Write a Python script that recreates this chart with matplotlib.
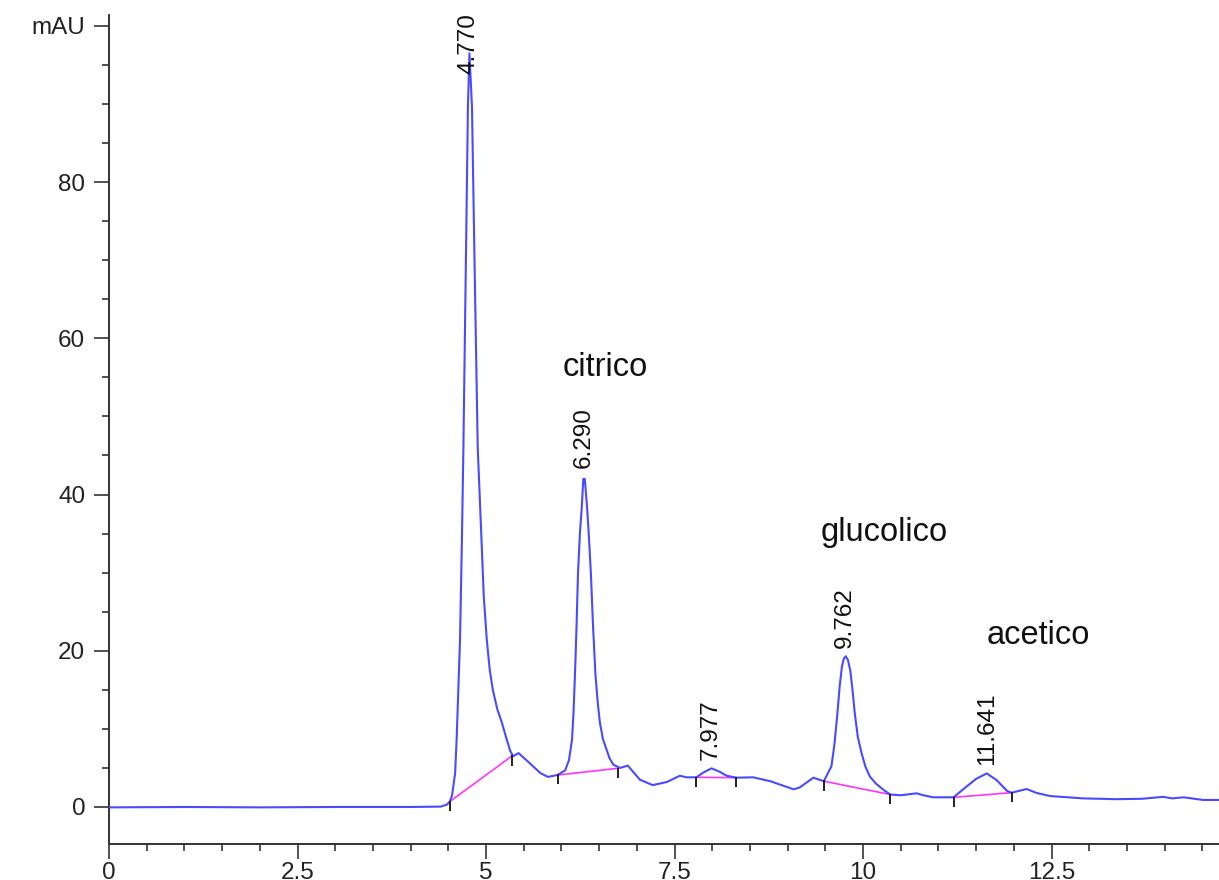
# chromatogram with integrated peaks (organic acids)

import matplotlib.pyplot as plt

# trace (min, mAU)
time_min = [0.0, 1.0, 2.0, 3.0, 3.5, 4.0, 4.4, 4.48, 4.52, 4.55, 4.59, 4.61, 4.655, 4.68,
            4.70, 4.735, 4.76, 4.78, 4.814, 4.845, 4.89, 4.94, 4.97, 5.01, 5.05, 5.09,
            5.15, 5.21, 5.27, 5.32, 5.36, 5.43, 5.50, 5.58, 5.72, 5.82, 5.95, 6.05, 6.10,
            6.14, 6.16, 6.18, 6.20, 6.22, 6.245, 6.27, 6.29, 6.31, 6.34, 6.365, 6.39,
            6.42, 6.45, 6.48, 6.51, 6.55, 6.60, 6.64, 6.69, 6.78, 6.88, 7.04, 7.21,
            7.40, 7.57, 7.66, 7.79, 7.88, 7.99, 8.10, 8.19, 8.32, 8.54, 8.77, 9.08,
            9.16, 9.34, 9.48, 9.58, 9.62, 9.66, 9.69, 9.72, 9.745, 9.77, 9.80, 9.83,
            9.86, 9.89, 9.93, 9.98, 10.03, 10.09, 10.17, 10.27, 10.36, 10.50, 10.71,
            10.80, 10.93, 11.20, 11.37, 11.50, 11.64, 11.77, 11.91, 11.97, 12.17, 12.30,
            12.48, 12.92, 13.36, 13.70, 13.98, 14.10, 14.25, 14.51, 14.72]
signal_mau = [-0.05, 0.0, -0.05, 0.0, 0.0, 0.0, 0.05, 0.3, 0.7, 1.5, 4.3, 8.6, 21.4, 34.0,
              46.0, 71.3, 89.6, 96.5, 89.6, 71.3, 46.0, 34.2, 27.0, 21.4, 17.5, 15.0,
              12.5, 10.8, 8.8, 7.2, 6.5, 6.9, 6.3, 5.6, 4.35, 3.85, 4.1, 4.7, 6.0,
              8.6, 12.0, 17.1, 23.0, 30.0, 35.0, 38.4, 42.0, 42.0, 38.4, 34.5, 30.0,
              23.0, 17.1, 13.5, 10.8, 8.7, 7.3, 6.2, 5.4, 5.0, 5.3, 3.5, 2.8,
              3.2, 4.0, 3.8, 3.8, 4.4, 4.95, 4.5, 4.0, 3.75, 3.8, 3.3, 2.26,
              2.5, 3.75, 3.3, 5.2, 8.0, 12.0, 15.5, 18.0, 19.0, 19.3, 18.8, 17.5,
              15.0, 12.0, 9.0, 6.9, 5.2, 3.9, 3.0, 2.2, 1.6, 1.5, 1.75,
              1.5, 1.24, 1.24, 2.6, 3.6, 4.3, 3.45, 2.05, 1.83, 2.3, 1.8,
              1.4, 1.1, 1.0, 1.05, 1.3, 1.1, 1.24, 0.9, 0.9]

# integration baselines (start / end of each peak)
base_t0 = [4.52, 5.96, 7.79, 9.48, 11.20]
base_y0 = [0.7, 4.1, 3.8, 3.3, 1.24]
base_t1 = [5.34, 6.75, 8.32, 10.36, 11.97]
base_y1 = [6.5, 4.95, 3.75, 1.6, 1.83]

# retention time labels
peak_rt = [4.770, 6.290, 7.977, 9.762, 11.641]
peak_height = [96.5, 42.3, 4.95, 19.3, 4.3]

# compound names
names = ['citrico', 'glucolico', 'acetico']
name_t = [6.58, 10.28, 12.32]
name_y = [56.3, 35.1, 22.0]

plt.rcParams['font.family'] = ['Liberation Sans', 'DejaVu Sans']

fig = plt.figure(figsize=(12.19, 8.80), dpi=100)
ax = fig.add_axes([0.0894, 0.0409, 0.9106, 0.9421])

ax.plot(time_min, signal_mau, color='#4a4aff', lw=1.5, zorder=3)

for t0, y0, t1, y1 in zip(base_t0, base_y0, base_t1, base_y1):
    ax.plot([t0, t1], [y0, y1], color='#ff33ff', lw=1.2, zorder=2)
    ax.vlines([t0, t1], [y0 - 1.2, y1 - 1.2], [y0 + 0.1, y1 + 0.1], color='#222222', lw=1.4, zorder=4)

for rt, h in zip(peak_rt, peak_height):
    ax.text(rt, min(h + 1.1, 93.8), f'{rt:.3f}', rotation=90, ha='center', va='bottom',
            fontsize=17.5, color='#111111', zorder=5)

for name, t, y in zip(names, name_t, name_y):
    ax.text(t, y, name, ha='center', va='center', fontsize=23.5, color='#111111')

ax.set_xlim(0, 14.72)
ax.set_ylim(-4.74, 101.4)

ax.set_xticks([0, 2.5, 5, 7.5, 10, 12.5])
ax.set_xticklabels(['0', '2.5', '5', '7.5', '10', '12.5'])
ax.set_xticks([i * 0.5 for i in range(30)], minor=True)
ax.set_yticks([0, 20, 40, 60, 80, 100])
ax.set_yticklabels(['0', '20', '40', '60', '80', 'mAU'])
ax.set_yticks([i * 5 for i in range(21)], minor=True)

ax.tick_params(which='major', length=11, width=1.2, labelsize=17.5, color='#333333',
               labelcolor='#222222')
ax.tick_params(which='minor', length=5, width=1.2, color='#333333')
ax.tick_params(axis='y', which='major', pad=6)
ax.tick_params(axis='x', which='major', pad=2)

for side in ['top', 'right']:
    ax.spines[side].set_visible(False)
for side in ['left', 'bottom']:
    ax.spines[side].set_linewidth(1.4)
    ax.spines[side].set_color('#333333')

fig.savefig('out.png', dpi=100)
